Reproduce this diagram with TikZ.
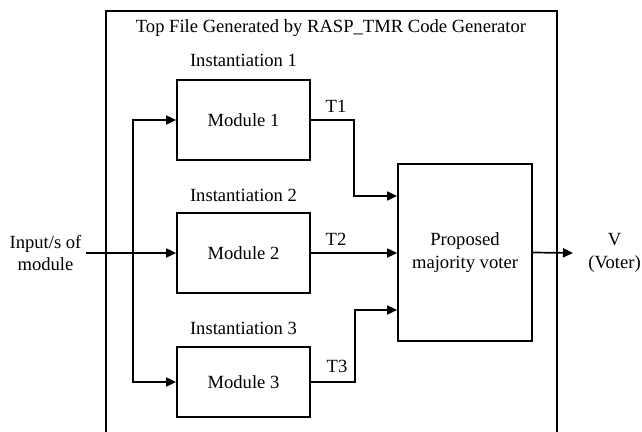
\documentclass[tikz,border=0pt]{standalone}
\usepackage{fontspec}
\setmainfont{Liberation Serif}
\usepackage{tikz}
\usetikzlibrary{arrows.meta, positioning}

\begin{document}
\begin{tikzpicture}[
  x=1pt, y=-1pt,
  font=\fontsize{18.6}{22.7}\selectfont,
  box/.style={rectangle, draw=black, line width=1.7pt,
              minimum width=133pt, minimum height=80pt, align=center},
  lbl/.style={inner sep=0pt, align=center},
  arr/.style={-{Triangle[length=10pt, width=9pt]}, line width=1.7pt},
  wire/.style={line width=1.7pt}
]
  \useasboundingbox (0,0) rectangle (642,431);
  % outer frame, open at the bottom
  \draw[wire] (106,440) |- (557,11) -- (557,440);
  \node[lbl] (title) at (331,28) {Top File Generated by RASP\_TMR Code Generator};

  \node[lbl] (ins1) at (243.5,60)  {Instantiation 1};
  \node[lbl] (ins2) at (243.5,195) {Instantiation 2};
  \node[lbl] (ins3) at (243.5,328) {Instantiation 3};

  \node[box] (mod1) at (243.5,120) {Module 1};
  \node[box] (mod2) at (243.5,253) {Module 2};
  \node[box, minimum height=70pt] (mod3) at (243.5,382) {Module 3};
  \node[box, minimum width=134pt, minimum height=177pt] (vot) at (465,252.5)
       {Proposed\\majority voter};

  \node[align=center, inner sep=4pt] (inp) at (45.5,253) {Input/s of\\module};
  \node[lbl] (vout) at (614.5,253) {V\\(Voter)};
  \coordinate (br) at (133,253);
  \coordinate (vend) at (573,253);

  \draw[arr] (inp.east) -- (mod2.west);
  \draw[arr] (br) |- (mod1.west);
  \draw[arr] (br) |- (mod3.west);

  \draw[arr] (mod1.east) -- ++(43,0) |- ([yshift=56.5pt]vot.west);
  \draw[arr] (mod2.east) -- (mod2.east -| vot.west);
  \draw[arr] (mod3.east) -- ++(44,0) |- ([yshift=-57.5pt]vot.west);
  \draw[arr] (vot.east) -- (vend);

  \node[lbl] (t1) at (336,106) {T1};
  \node[lbl] (t2) at (336,239) {T2};
  \node[lbl] (t3) at (337,366) {T3};
\end{tikzpicture}
\end{document}
